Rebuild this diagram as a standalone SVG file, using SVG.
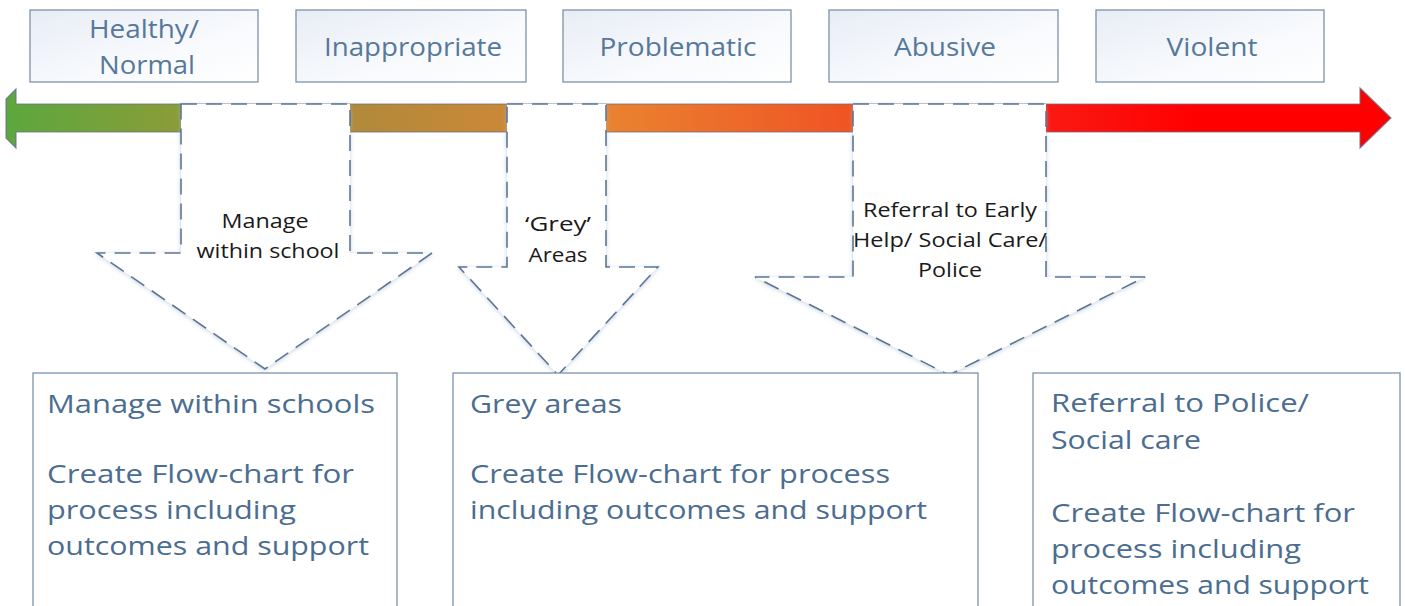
<svg xmlns="http://www.w3.org/2000/svg" width="1405" height="606" viewBox="0 0 1405 606">
  <defs>
    <linearGradient id="scaleGrad" gradientUnits="userSpaceOnUse" x1="0" y1="0" x2="1391" y2="0">
      <stop offset="0" stop-color="#5aa83e"/>
      <stop offset="0.13" stop-color="#8a9c38"/>
      <stop offset="0.25" stop-color="#b08a3a"/>
      <stop offset="0.36" stop-color="#c98838"/>
      <stop offset="0.44" stop-color="#e9822f"/>
      <stop offset="0.61" stop-color="#f05424"/>
      <stop offset="0.75" stop-color="#fa1a12"/>
      <stop offset="0.86" stop-color="#ff0000"/>
      <stop offset="1" stop-color="#ff0000"/>
    </linearGradient>
    <linearGradient id="boxGrad" x1="0" y1="0" x2="1" y2="1">
      <stop offset="0" stop-color="#e8edf5"/>
      <stop offset="0.6" stop-color="#f8fafd"/>
      <stop offset="1" stop-color="#ffffff"/>
    </linearGradient>
    <filter id="glow" x="-10%" y="-10%" width="120%" height="120%">
      <feGaussianBlur in="SourceAlpha" stdDeviation="2"/>
      <feOffset dx="0" dy="1" result="b"/>
      <feFlood flood-color="#9fb6d0" flood-opacity="0.6"/>
      <feComposite in2="b" operator="in"/>
      <feMerge><feMergeNode/><feMergeNode in="SourceGraphic"/></feMerge>
    </filter>
  </defs>
  <style>
    .top { fill: url(#boxGrad); stroke: #7d92a9; stroke-width: 1.3; }
    .topText { font-family: "Open Sans", "Liberation Sans", sans-serif; font-size: 25px; fill: #56789b; text-anchor: middle; }
    .down { fill: #ffffff; stroke: #5d7594; stroke-width: 1.6; stroke-dasharray: 16 9; }
    .downText { font-family: "Open Sans", "Liberation Sans", sans-serif; font-size: 19.5px; fill: #1a1a1a; text-anchor: middle; }
    .box { fill: #ffffff; stroke: #7c92ab; stroke-width: 1.3; }
    .boxText { font-family: "Open Sans", "Liberation Sans", sans-serif; font-size: 26px; fill: #4b6d90; }
  </style>

  <rect x="0" y="0" width="1405" height="606" fill="#ffffff"/>

  <!-- top category boxes -->
  <g id="healthy">
    <rect class="top" x="30" y="10" width="228" height="72"/>
    <text class="topText" x="144" y="38" textLength="110" lengthAdjust="spacingAndGlyphs">Healthy/</text>
    <text class="topText" x="147" y="74" textLength="96" lengthAdjust="spacingAndGlyphs">Normal</text>
  </g>
  <g id="inappropriate">
    <rect class="top" x="296" y="10" width="230" height="72"/>
    <text class="topText" x="413" y="56" textLength="178" lengthAdjust="spacingAndGlyphs">Inappropriate</text>
  </g>
  <g id="problematic">
    <rect class="top" x="563" y="10" width="228" height="72"/>
    <text class="topText" x="678" y="56" textLength="157" lengthAdjust="spacingAndGlyphs">Problematic</text>
  </g>
  <g id="abusive">
    <rect class="top" x="829" y="10" width="229" height="72"/>
    <text class="topText" x="945" y="56" textLength="102" lengthAdjust="spacingAndGlyphs">Abusive</text>
  </g>
  <g id="violent">
    <rect class="top" x="1096" y="10" width="228" height="72"/>
    <text class="topText" x="1212" y="56" textLength="91" lengthAdjust="spacingAndGlyphs">Violent</text>
  </g>

  <!-- graded scale arrow -->
  <g id="scale">
    <polygon points="16,89 16,104 1360,104 1360,88 1391,118 1360,148 1360,132 16,132 16,148 6,138 6,99" fill="url(#scaleGrad)" stroke="#6a6f8e" stroke-width="1.2" stroke-opacity="0.8"/>
  </g>

  <!-- connectors: dashed block arrows from the scale to the response boxes -->
  <g id="connectors">
    <g id="arrow-manage" filter="url(#glow)">
      <polygon class="down" points="181,104 350,104 350,253 432,253 265,369 97,253 181,253"/>
    </g>
    <g id="arrow-grey" filter="url(#glow)">
      <polygon class="down" points="507,104 606,104 606,267 658,267 558,375 459,267 507,267"/>
    </g>
    <g id="arrow-referral" filter="url(#glow)">
      <polygon class="down" points="853,104 1046,104 1046,277 1145,277 949,375 755,277 853,277"/>
    </g>
  </g>

  <g id="label-manage">
    <text class="downText" x="265" y="228" textLength="87" lengthAdjust="spacingAndGlyphs">Manage</text>
    <text class="downText" x="268" y="258" textLength="143" lengthAdjust="spacingAndGlyphs">within school</text>
  </g>
  <g id="label-grey">
    <text class="downText" x="558" y="231" textLength="66" lengthAdjust="spacingAndGlyphs">‘Grey’</text>
    <text class="downText" x="558" y="262" textLength="59" lengthAdjust="spacingAndGlyphs">Areas</text>
  </g>
  <g id="label-referral">
    <text class="downText" x="950" y="217" textLength="174" lengthAdjust="spacingAndGlyphs">Referral to Early</text>
    <text class="downText" x="950" y="247" textLength="194" lengthAdjust="spacingAndGlyphs">Help/ Social Care/</text>
    <text class="downText" x="950" y="277" textLength="64" lengthAdjust="spacingAndGlyphs">Police</text>
  </g>

  <!-- response boxes -->
  <g id="box-manage">
    <rect class="box" x="33" y="373" width="364" height="240"/>
    <text class="boxText" x="47" y="413" textLength="328" lengthAdjust="spacingAndGlyphs">Manage within schools</text>
    <text class="boxText" x="47" y="483" textLength="307" lengthAdjust="spacingAndGlyphs">Create Flow-chart for</text>
    <text class="boxText" x="47" y="519" textLength="249" lengthAdjust="spacingAndGlyphs">process including</text>
    <text class="boxText" x="47" y="555" textLength="322" lengthAdjust="spacingAndGlyphs">outcomes and support</text>
  </g>
  <g id="box-grey">
    <rect class="box" x="453" y="373" width="525" height="240"/>
    <text class="boxText" x="470" y="413" textLength="152" lengthAdjust="spacingAndGlyphs">Grey areas</text>
    <text class="boxText" x="470" y="483" textLength="420" lengthAdjust="spacingAndGlyphs">Create Flow-chart for process</text>
    <text class="boxText" x="470" y="519" textLength="457" lengthAdjust="spacingAndGlyphs">including outcomes and support</text>
  </g>
  <g id="box-referral">
    <rect class="box" x="1033" y="373" width="367" height="240"/>
    <text class="boxText" x="1051" y="412" textLength="258" lengthAdjust="spacingAndGlyphs">Referral to Police/</text>
    <text class="boxText" x="1051" y="449" textLength="150" lengthAdjust="spacingAndGlyphs">Social care</text>
    <text class="boxText" x="1051" y="522" textLength="304" lengthAdjust="spacingAndGlyphs">Create Flow-chart for</text>
    <text class="boxText" x="1051" y="558" textLength="250" lengthAdjust="spacingAndGlyphs">process including</text>
    <text class="boxText" x="1051" y="594" textLength="318" lengthAdjust="spacingAndGlyphs">outcomes and support</text>
  </g>
</svg>
